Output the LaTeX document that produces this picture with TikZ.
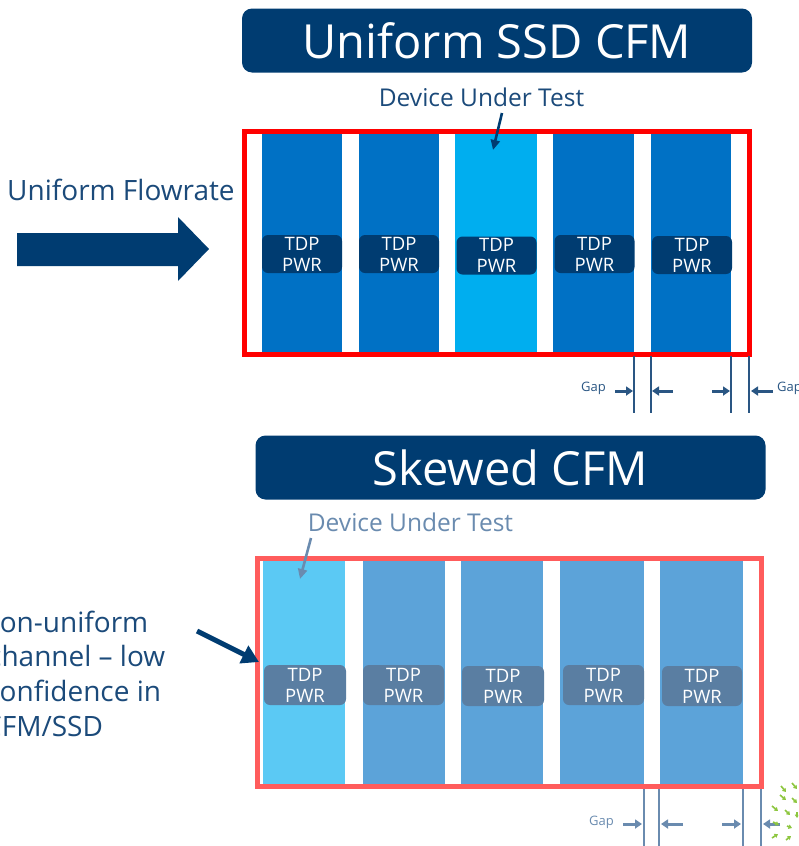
\documentclass[tikz,border=0pt]{standalone}
\usepackage{fontspec}
\setmainfont{Open Sans}
\usetikzlibrary{arrows.meta}
\definecolor{navy}{HTML}{003C71}
\definecolor{txtblue}{HTML}{1B4A7A}
\definecolor{stripA}{HTML}{0071C5}
\definecolor{dutA}{HTML}{00AEEF}
\definecolor{redA}{HTML}{FF0000}
\definecolor{stripB}{HTML}{5CA3D9}
\definecolor{dutB}{HTML}{5BC9F4}
\definecolor{tdpB}{HTML}{5A7EA2}
\definecolor{redB}{HTML}{FF5C5C}
\definecolor{paleB}{HTML}{6A8BAF}
\definecolor{gapA}{HTML}{2A5683}
\definecolor{greenL}{HTML}{8DC63F}
\begin{document}
\begin{tikzpicture}[x=1pt,y=-1pt,
  titlebox/.style={fill=navy, rounded corners=10pt, text=white, inner sep=0pt,
    font=\fontsize{47}{50}\selectfont, minimum height=64pt},
  stripbox/.style={inner sep=0pt, minimum height=#1},
  tdpbox/.style={rounded corners=6pt, text=white, inner sep=0pt, align=center,
    font=\fontsize{18.5}{21}\selectfont},
  dutlabel/.style={font=\fontsize{24.5}{28}\selectfont, inner sep=0pt},
  sidelabel/.style={font=\fontsize{28}{32}\selectfont, text=txtblue, inner sep=0pt, anchor=base west},
  gaplabel/.style={font=\fontsize{13}{15}\selectfont, inner sep=0pt},
  gapline/.style={line width=1.6pt},
  gaparrow/.style={line width=3pt, -{Triangle[length=7pt,width=9pt]}},
  greenarrow/.style={greenL, line width=1.6pt, -{Triangle[length=3.5pt,width=4.5pt]}}
]
\useasboundingbox (0,0) rectangle (798,846);
\clip (0,0) rectangle (798,846);

% ---------------- top panel ----------------
\node[titlebox, minimum width=510pt] (t1) at (497,40.5) {Uniform SSD CFM};
\node[dutlabel, text=txtblue, anchor=base] (d1) at (481.5,106) {Device Under Test};

\node[txtblue, font=\fontsize{28}{32}\selectfont, inner sep=0pt, anchor=base west] (uf) at (7,200) {Uniform Flowrate};
\fill[navy] (17,233) -- (178,233) -- (178,217) -- (209,249) -- (178,281) -- (178,266) -- (17,266) -- cycle;

\node[stripbox=218pt, fill=stripA, minimum width=80pt] (a1) at (302,242.5) {};
\node[stripbox=218pt, fill=stripA, minimum width=80pt] (a2) at (399,242.5) {};
\node[stripbox=218pt, fill=dutA,   minimum width=82pt] (a3) at (496,242.5) {};
\node[stripbox=218pt, fill=stripA, minimum width=81pt] (a4) at (593.5,242.5) {};
\node[stripbox=218pt, fill=stripA, minimum width=80pt] (a5) at (691,242.5) {};

\node[tdpbox, fill=navy, minimum width=80pt, minimum height=38pt] (p1) at (302,254) {TDP\\PWR};
\node[tdpbox, fill=navy, minimum width=80pt, minimum height=38pt] (p2) at (399,254) {TDP\\PWR};
\node[tdpbox, fill=navy, minimum width=80pt, minimum height=38pt] (p3) at (496.5,255.5) {TDP\\PWR};
\node[tdpbox, fill=navy, minimum width=80pt, minimum height=38pt] (p4) at (594.5,254) {TDP\\PWR};
\node[tdpbox, fill=navy, minimum width=80pt, minimum height=38pt] (p5) at (692,255) {TDP\\PWR};

\node[draw=redA, line width=5pt, inner sep=0pt, minimum width=505pt, minimum height=223pt] (f1) at (496.5,242.5) {};

\coordinate (dA1) at (502,113);
\coordinate (dA2) at (493,150);
\draw[navy, line width=2.6pt, -{Triangle[length=10pt,width=9pt]}] (dA1) -- (dA2);

% top gap marks
\foreach \x/\n in {634/g1,651/g2,731/g3,749/g4}{
  \coordinate (\n t) at (\x,356);
  \coordinate (\n b) at (\x,413);
  \draw[gapline, gapA] (\n t) -- (\n b);
}
\node[gaplabel, text=gapA] (gl1) at (593.5,388) {Gap};
\node[gaplabel, text=gapA, anchor=west] (gl2) at (777,388) {Gap};
\coordinate (ga1) at (615,391); \coordinate (gb1) at (633,391);
\coordinate (ga2) at (673,391); \coordinate (gb2) at (652,391);
\coordinate (ga3) at (712,391); \coordinate (gb3) at (730,391);
\coordinate (ga4) at (773,391); \coordinate (gb4) at (751,391);
\foreach \i in {1,2,3,4}{\draw[gaparrow, gapA] (ga\i) -- (gb\i);}

% ---------------- bottom panel ----------------
\node[titlebox, minimum width=510pt] (t2) at (510.5,467.5) {Skewed CFM};
\node[dutlabel, text=paleB, anchor=base] (d2) at (410.5,531) {Device Under Test};

\node[sidelabel] (l1) at (-21.5,632) {Non-uniform};
\node[sidelabel] (l2) at (-12,666) {channel – low};
\node[sidelabel] (l3) at (-13.8,701) {confidence in};
\node[sidelabel] (l4) at (-16,736) {CFM/SSD};

\node[stripbox=223pt, fill=dutB,   minimum width=82pt] (b1) at (304,672) {};
\node[stripbox=223pt, fill=stripB, minimum width=82pt] (b2) at (404,672) {};
\node[stripbox=223pt, fill=stripB, minimum width=82pt] (b3) at (502,672) {};
\node[stripbox=223pt, fill=stripB, minimum width=84pt] (b4) at (602,672) {};
\node[stripbox=223pt, fill=stripB, minimum width=83pt] (b5) at (701.5,672) {};

\node[tdpbox, fill=tdpB, minimum width=82pt, minimum height=40pt] (q1) at (305,685) {TDP\\PWR};
\node[tdpbox, fill=tdpB, minimum width=81pt, minimum height=40pt] (q2) at (403.5,685) {TDP\\PWR};
\node[tdpbox, fill=tdpB, minimum width=82pt, minimum height=40pt] (q3) at (503,686) {TDP\\PWR};
\node[tdpbox, fill=tdpB, minimum width=81pt, minimum height=40pt] (q4) at (603.5,685) {TDP\\PWR};
\node[tdpbox, fill=tdpB, minimum width=80pt, minimum height=40pt] (q5) at (702,686) {TDP\\PWR};

\node[draw=redB, line width=5pt, inner sep=0pt, minimum width=503.5pt, minimum height=228pt] (f2) at (509.25,672) {};

\coordinate (dB1) at (311,538);
\coordinate (dB2) at (300,579);
\draw[paleB, line width=2.6pt, -{Triangle[length=10pt,width=9pt]}] (dB1) -- (dB2);

\coordinate (nuA) at (197,631);
\coordinate (nuB) at (259,662);
\draw[navy, line width=5pt, -{Triangle[length=17pt,width=19pt]}] (nuA) -- (nuB);

% bottom gap marks
\foreach \x/\n in {644/h1,659/h2,743/h3,761/h4}{
  \coordinate (\n t) at (\x,789);
  \coordinate (\n b) at (\x,846);
  \draw[gapline, paleB] (\n t) -- (\n b);
}
\node[gaplabel, text=paleB] (gl3) at (601.5,822) {Gap};
\coordinate (ha1) at (623,824); \coordinate (hb1) at (642,824);
\coordinate (ha2) at (683,824); \coordinate (hb2) at (661,824);
\coordinate (ha3) at (722,824); \coordinate (hb3) at (741,824);
\coordinate (ha4) at (780,824); \coordinate (hb4) at (763,824);
\foreach \i in {1,2,3,4}{\draw[gaparrow, paleB] (ha\i) -- (hb\i);}

% green decoration at the corner
\foreach \ax/\ay/\bx/\by in {
  792/783/797/789, 780/795/786/800, 792/798/797/803, 772/806/778/811,
  785/810/790/815, 773/822/779/825, 787/826/792/828, 772/838/778/834,
  786/840/791/836, 797/812/797/818, 781/786/786/792}{
  \draw[greenarrow] (\ax,\ay) -- (\bx,\by);
}
\end{tikzpicture}
\end{document}
